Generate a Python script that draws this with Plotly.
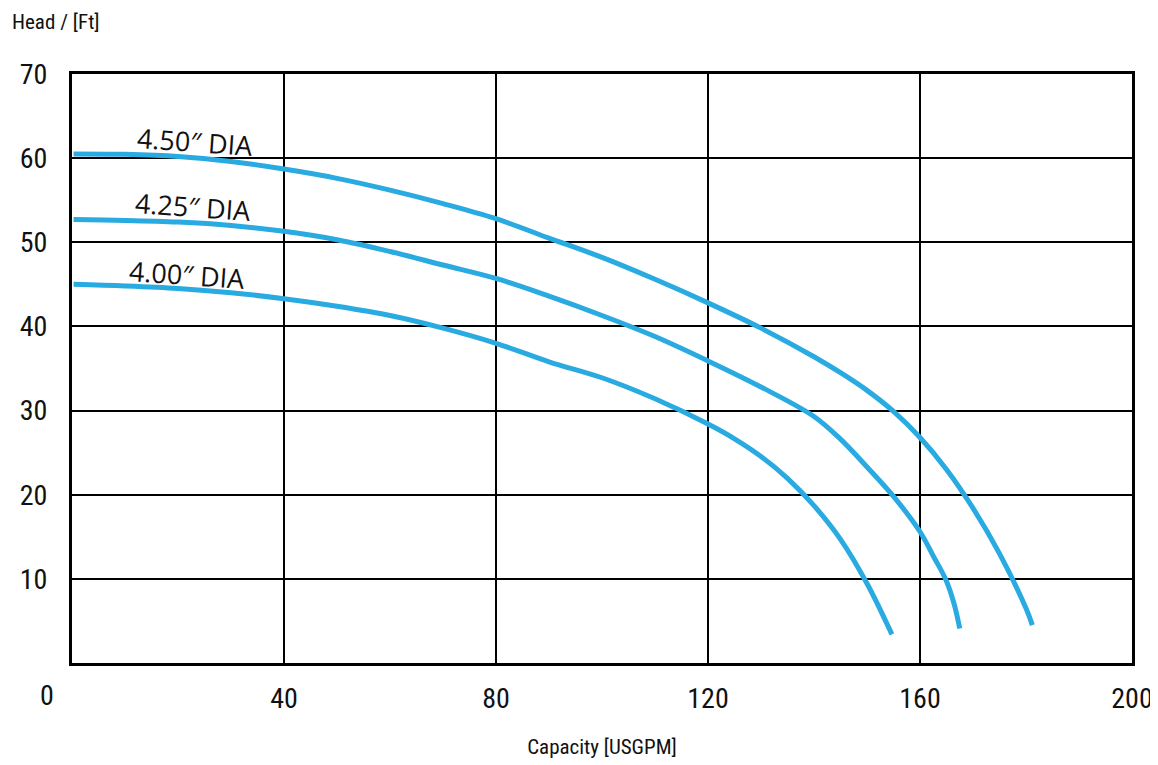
import plotly.graph_objects as go

# Capacity [USGPM] and Head [Ft] for each impeller diameter
x_450 = [0.3, 10, 20, 30, 40, 50, 60, 70, 80, 90, 100, 110, 120, 130, 140, 145, 150, 155, 160, 165, 170, 175, 180, 181.2]
y_450 = [60.5, 60.45, 60.2, 59.6, 58.7, 57.6, 56.2, 54.6, 52.8, 50.5, 48.2, 45.6, 42.8, 39.8, 36.4, 34.5, 32.4, 29.9, 26.8, 23.0, 18.4, 13.0, 6.5, 4.5]

x_425 = [0.3, 10, 20, 30, 40, 50, 60, 70, 80, 90, 100, 110, 120, 130, 140, 145, 150, 155, 160, 162.6, 164.8, 166.4, 167.5]
y_425 = [52.7, 52.6, 52.4, 52.0, 51.3, 50.3, 48.9, 47.3, 45.7, 43.6, 41.3, 38.8, 35.9, 32.8, 29.3, 26.6, 23.3, 19.8, 15.6, 12.6, 10.0, 7.1, 4.1]

x_400 = [0.3, 10, 20, 30, 40, 50, 60, 70, 80, 90, 100, 110, 120, 125, 130, 135, 140, 145, 150, 154.7]
y_400 = [45.0, 44.8, 44.5, 44.0, 43.3, 42.4, 41.3, 39.8, 38.0, 35.8, 33.9, 31.4, 28.4, 26.65, 24.55, 21.95, 18.7, 14.7, 9.45, 3.4]

labels = ["4.50\u2033 DIA", "4.25\u2033 DIA", "4.00\u2033 DIA"]
label_x = [23.2, 22.9, 21.7]
label_y = [62.0, 54.3, 46.2]

x_ticks = [40, 80, 120, 160, 200]
y_ticks = [10, 20, 30, 40, 50, 60, 70]

BLUE = "#29ABE2"
NARROW = "Roboto Condensed, Arial Narrow, Liberation Sans Narrow, Roboto, sans-serif"

fig = go.Figure()
for xs, ys in [(x_450, y_450), (x_425, y_425), (x_400, y_400)]:
    fig.add_trace(go.Scatter(x=xs, y=ys, mode="lines",
                             line=dict(color=BLUE, width=5, shape="spline", smoothing=1.0),
                             showlegend=False, hoverinfo="skip"))

for t, lx, ly in zip(labels, label_x, label_y):
    fig.add_annotation(x=lx, y=ly, xref="x", yref="y", text=t, showarrow=False,
                       textangle=4, font=dict(family="Open Sans, Noto Sans, sans-serif", size=27, color="#111"))

fig.add_annotation(x=0, y=0, xref="paper", yref="paper", xanchor="center", yanchor="middle",
                   xshift=-25, yshift=-32, text="0", showarrow=False,
                   font=dict(family=NARROW, size=28, color="#111"))
fig.add_annotation(x=0, y=1, xref="paper", yref="paper", xanchor="left", yanchor="middle",
                   xshift=-62, yshift=52, text="Head / [Ft]", showarrow=False,
                   font=dict(family=NARROW, size=21, color="#111"))

# page body has an 8px margin, so the figure is shrunk by 8px to keep the plot in place
fig.update_layout(
    width=1150, height=757,
    margin=dict(l=64, r=26, t=66, b=102),
    paper_bgcolor="white", plot_bgcolor="white",
    xaxis=dict(range=[0, 200], tickvals=x_ticks, showgrid=True, gridcolor="black", gridwidth=1.5,
               zeroline=False, showline=True, linecolor="black", linewidth=3, mirror=True,
               ticks="outside", ticklen=8, tickcolor="rgba(0,0,0,0)", automargin=False,
               tickfont=dict(family=NARROW, size=28, color="#111"),
               title=dict(text="Capacity [USGPM]", font=dict(family=NARROW, size=21, color="#111"), standoff=26)),
    yaxis=dict(range=[0, 70], tickvals=y_ticks, showgrid=True, gridcolor="black", gridwidth=1.5,
               zeroline=False, showline=True, linecolor="black", linewidth=3, mirror=True,
               ticks="outside", ticklen=16, tickcolor="rgba(0,0,0,0)", automargin=False,
               tickfont=dict(family=NARROW, size=28, color="#111")),
)

fig.write_html("out.html")
